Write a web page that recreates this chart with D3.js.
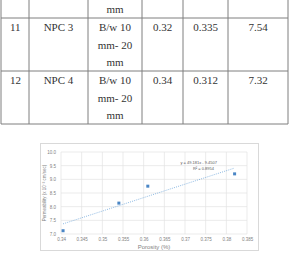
<!DOCTYPE html>
<html>
<head>
<meta charset="utf-8">
<script src="https://cdn.jsdelivr.net/npm/d3@7"></script>
<style>
  body { margin: 0; background: #fff; }
  svg { display: block; }
</style>
</head>
<body>
<div id="chart-area"></div>
<script>
// table rows (end of previous row + two rows)
var tableRows = [
  ['', '', ['mm'], '', '', ''],
  ['11', 'NPC 3', ['B/w 10', 'mm- 20', 'mm'], '0.32', '0.335', '7.54'],
  ['12', 'NPC 4', ['B/w 10', 'mm- 20', 'mm'], '0.34', '0.312', '7.32']
];

// scatter data
var porosity = [0.3405, 0.354, 0.361, 0.382];
var permeability = [7.12, 8.13, 8.75, 9.2];
var xTicks = [0.34, 0.345, 0.35, 0.355, 0.36, 0.365, 0.37, 0.375, 0.38, 0.385];
var yTicks = [7, 7.5, 8, 8.5, 9, 9.5, 10];

var svg = d3.select('#chart-area').append('svg')
  .attr('width', 290)
  .attr('height', 253);

// ---- table ----
var colX = [1, 29, 88, 142, 183, 228, 288];
var rowY = [-35, 18, 71, 124];
var lineStep = 17.5;

var tbl = svg.append('g');
colX.forEach(function(x) {
  tbl.append('line')
    .attr('x1', x).attr('x2', x)
    .attr('y1', rowY[0]).attr('y2', rowY[3])
    .attr('stroke', '#7f7f7f').attr('stroke-width', 1);
});
rowY.forEach(function(y) {
  tbl.append('line')
    .attr('x1', colX[0]).attr('x2', colX[6])
    .attr('y1', y).attr('y2', y)
    .attr('stroke', '#7f7f7f').attr('stroke-width', 1);
});

tableRows.forEach(function(row, r) {
  var top = r === 0 ? rowY[1] - 18 : rowY[r];
  row.forEach(function(cell, c) {
    var lines = Array.isArray(cell) ? cell : [cell];
    lines.forEach(function(txt, k) {
      var cx = c === 0 ? 10 : (colX[c] + colX[c + 1]) / 2;
      tbl.append('text')
        .attr('x', cx)
        .attr('y', top + 13 + k * lineStep)
        .attr('text-anchor', c === 0 ? 'start' : 'middle')
        .attr('font-family', 'Liberation Serif, serif')
        .attr('font-size', 11)
        .attr('fill', '#333')
        .text(txt);
    });
  });
});

// ---- chart ----
var box = { x: 40, y: 143, w: 218, h: 107 };
svg.append('rect')
  .attr('x', box.x + 0.5).attr('y', box.y + 0.5)
  .attr('width', box.w).attr('height', box.h)
  .attr('fill', '#fff')
  .attr('stroke', '#d9d9d9');

var x = d3.scaleLinear().domain([0.34, 0.385]).range([61, 247]);
var y = d3.scaleLinear().domain([7, 10]).range([234, 152]);

var grid = svg.append('g');
grid.selectAll('.vg').data(xTicks).enter().append('line')
  .attr('x1', function(d) { return x(d); })
  .attr('x2', function(d) { return x(d); })
  .attr('y1', y(10)).attr('y2', y(7))
  .attr('stroke', '#e3e3e3').attr('stroke-width', 0.7);
grid.selectAll('.hg').data(yTicks).enter().append('line')
  .attr('x1', x(0.34)).attr('x2', x(0.385))
  .attr('y1', function(d) { return y(d); })
  .attr('y2', function(d) { return y(d); })
  .attr('stroke', '#e3e3e3').attr('stroke-width', 0.7);

var xAxis = svg.append('g')
  .attr('transform', 'translate(0,' + y(7) + ')')
  .call(d3.axisBottom(x).tickValues(xTicks).tickSize(0).tickPadding(3.5)
    .tickFormat(function(d) { return d3.format('')(+d.toFixed(3)); }));
var yAxis = svg.append('g')
  .attr('transform', 'translate(' + x(0.34) + ',0)')
  .call(d3.axisLeft(y).tickValues(yTicks).tickSize(0).tickPadding(5));
[xAxis, yAxis].forEach(function(a) {
  a.select('.domain').remove();
  a.selectAll('text')
    .attr('font-family', 'Liberation Sans, Arial, sans-serif')
    .attr('font-size', 4.5)
    .attr('fill', '#7f7f7f');
});

svg.append('text')
  .attr('x', 154).attr('y', 249)
  .attr('text-anchor', 'middle')
  .attr('font-family', 'Liberation Sans, Arial, sans-serif')
  .attr('font-size', 6)
  .attr('fill', '#7f7f7f')
  .text('Porosity (%)');

svg.append('text')
  .attr('transform', 'translate(46,' + y(8.5) + ') rotate(-90)')
  .attr('text-anchor', 'middle')
  .attr('font-family', 'Liberation Sans, Arial, sans-serif')
  .attr('font-size', 4.5)
  .attr('fill', '#7f7f7f')
  .text('Permeability (x 10⁻² cm/sec)');

// linear trendline from least squares
var mx = d3.mean(porosity), my = d3.mean(permeability);
var sxy = d3.sum(porosity, function(d, i) { return (d - mx) * (permeability[i] - my); });
var sxx = d3.sum(porosity, function(d) { return (d - mx) * (d - mx); });
var slope = sxy / sxx, icpt = my - slope * mx;
var x0 = d3.min(porosity), x1 = d3.max(porosity);
svg.append('line')
  .attr('x1', x(x0)).attr('y1', y(slope * x0 + icpt))
  .attr('x2', x(x1)).attr('y2', y(slope * x1 + icpt))
  .attr('stroke', '#5b9bd5')
  .attr('stroke-width', 0.7)
  .attr('stroke-dasharray', '1,1.2');

svg.selectAll('.pt').data(porosity).enter().append('rect')
  .attr('x', function(d) { return x(d) - 1.5; })
  .attr('y', function(d, i) { return y(permeability[i]) - 1.5; })
  .attr('width', 3).attr('height', 3)
  .attr('fill', '#4a86c5');

svg.append('text')
  .attr('x', 217).attr('y', 164)
  .attr('text-anchor', 'end')
  .attr('font-family', 'Liberation Sans, Arial, sans-serif')
  .attr('font-size', 4)
  .attr('fill', '#595959')
  .text('y = 49.181x - 9.4507');
svg.append('text')
  .attr('x', 214).attr('y', 169.5)
  .attr('text-anchor', 'end')
  .attr('font-family', 'Liberation Sans, Arial, sans-serif')
  .attr('font-size', 4)
  .attr('fill', '#595959')
  .text('R² = 0.8954');
</script>
</body>
</html>
